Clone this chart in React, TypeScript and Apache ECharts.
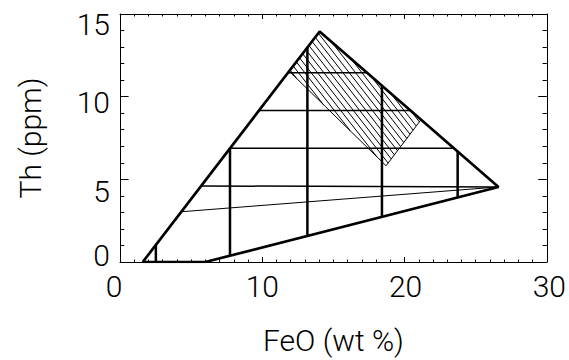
import React, { useEffect, useRef } from "react";
import * as echarts from "echarts";

// ---- data ----
const xTicks = [0, 10, 20, 30];
const yTicks = [0, 5, 10, 15];

// outer triangle-like outline (FeO wt%, Th ppm)
const outline = [
  [1.6, 0],
  [6.0, 0],
  [26.6, 4.54],
  [14.03, 13.94],
  [1.6, 0],
];

// horizontal-ish divider lines
const horizontalLines = [
  [[11.8, 11.44], [17.37, 11.44]],
  [[9.77, 9.16], [20.42, 9.16]],
  [[7.73, 6.88], [23.47, 6.88]],
  [[5.74, 4.6], [26.6, 4.54]],
];

// thin sloping line
const thinLine = [
  [4.31, 3.04],
  [26.6, 4.54],
];

// vertical divider lines
const verticalLines = [
  [[2.52, 0], [2.52, 1.03]],
  [[7.73, 0.38], [7.73, 6.88]],
  [[13.17, 1.58], [13.17, 12.98]],
  [[18.41, 2.74], [18.41, 10.66]],
  [[23.73, 3.91], [23.73, 6.69]],
];

// hatched parallelogram: apex, right, bottom, left
const hatchRegion = [
  [14.03, 13.94],
  [21.15, 8.6],
  [18.7, 5.82],
  [11.89, 11.54],
];

const HATCH_ANGLE = 52; // degrees, down-right in screen space
const HATCH_SPACING = 5; // px perpendicular

const FONT = "Roboto, 'DejaVu Sans', sans-serif";
const FW = 300;
const FS = 30;
const TXT = "#000";

function lineSeries(data: number[][], width: number) {
  return {
    type: "line",
    data,
    symbol: "none",
    silent: true,
    lineStyle: { color: "#000", width },
    xAxisIndex: 0,
    yAxisIndex: 0,
    z: 3,
  };
}

export default function App() {
  const ref = useRef<HTMLDivElement>(null);
  useEffect(() => {
    if (!ref.current) return;
    document.body.style.margin = "0";
    const chart = echarts.init(ref.current, null, { renderer: "svg" });

    const axisCommon = {
      type: "value",
      splitLine: { show: false },
      axisLine: { show: true, onZero: false, lineStyle: { color: "#000", width: 1 } },
    };

    const yRich: any = {};
    const yPad: Record<number, number[]> = {
      0: [0, 0, 14, 0],
      5: [24, 0, 0, 0],
      10: [12, 0, 0, 0],
      15: [20, 0, 0, 0],
    };
    yTicks.forEach((v) => {
      yRich["y" + v] = { fontSize: FS, fontFamily: FONT, fontWeight: FW, color: TXT, padding: yPad[v] };
    });
    const xRich: any = {};
    const xPad: Record<number, number[]> = {
      0: [0, 12, 0, 0],
      10: [0, 0, 0, 0],
      20: [0, 0, 0, 2],
      30: [0, 0, 0, 5],
    };
    xTicks.forEach((v) => {
      xRich["x" + v] = { fontSize: FS, fontFamily: FONT, fontWeight: FW, color: TXT, padding: xPad[v] };
    });

    const series: any[] = [];
    series.push({
      type: "custom",
      coordinateSystem: "cartesian2d",
      xAxisIndex: 0,
      yAxisIndex: 0,
      silent: true,
      clip: false,
      data: [[hatchRegion[0][0], hatchRegion[0][1]]],
      z: 2,
      renderItem: (params: any, api: any) => {
        const pts = hatchRegion.map((p) => api.coord(p));
        const th = (HATCH_ANGLE * Math.PI) / 180;
        const nx = -Math.sin(th);
        const ny = Math.cos(th);
        const proj = pts.map((p: number[]) => p[0] * nx + p[1] * ny);
        const lo = Math.min(...proj);
        const hi = Math.max(...proj);
        const children: any[] = [];
        for (let c = lo + HATCH_SPACING / 2; c < hi; c += HATCH_SPACING) {
          const hits: number[][] = [];
          for (let i = 0; i < pts.length; i++) {
            const a = pts[i];
            const b = pts[(i + 1) % pts.length];
            const fa = proj[i] - c;
            const fb = proj[(i + 1) % pts.length] - c;
            if ((fa <= 0 && fb > 0) || (fa > 0 && fb <= 0)) {
              const t = fa / (fa - fb);
              hits.push([a[0] + (b[0] - a[0]) * t, a[1] + (b[1] - a[1]) * t]);
            }
          }
          if (hits.length >= 2) {
            children.push({
              type: "line",
              shape: { x1: hits[0][0], y1: hits[0][1], x2: hits[1][0], y2: hits[1][1] },
              style: { stroke: "#000", lineWidth: 1 },
            });
          }
        }
        children.push({
          type: "polyline",
          shape: { points: [pts[1], pts[2], pts[3]] },
          style: { stroke: "#000", lineWidth: 1, fill: null },
        });
        return { type: "group", children };
      },
    });

    series.push(lineSeries(outline, 2.7));
    horizontalLines.forEach((l) => series.push(lineSeries(l, 1.5)));
    series.push(lineSeries(thinLine, 1));
    verticalLines.forEach((l) => series.push(lineSeries(l, 2.5)));

    chart.setOption({
      animation: false,
      backgroundColor: "#fff",
      grid: { left: 120, right: 20, top: 14, bottom: 96, containLabel: false },
      xAxis: [
        {
          ...axisCommon,
          position: "bottom",
          min: 0,
          max: 30,
          interval: 10,
          axisTick: { show: true, inside: true, length: 5, lineStyle: { color: "#000", width: 1 } },
          minorTick: { show: true, splitNumber: 10, length: 2.5, lineStyle: { color: "#000", width: 1 } },
          axisLabel: {
            margin: 9,
            formatter: (v: number) => `{x${v}|${v}}`,
            rich: xRich,
          },
          name: "FeO (wt %)",
          nameLocation: "middle",
          nameGap: 63,
          nameTextStyle: { fontSize: FS, fontFamily: FONT, fontWeight: FW, color: TXT },
        },
        {
          ...axisCommon,
          position: "top",
          min: 0,
          max: 30,
          interval: 10,
          axisTick: { show: true, inside: true, length: 5, lineStyle: { color: "#000", width: 1 } },
          minorTick: { show: true, splitNumber: 10, length: 2.5, lineStyle: { color: "#000", width: 1 } },
          axisLabel: { show: false },
        },
      ],
      yAxis: [
        {
          ...axisCommon,
          position: "left",
          min: 0,
          max: 15,
          interval: 5,
          axisTick: { show: true, inside: true, length: 8.6, lineStyle: { color: "#000", width: 1 } },
          minorTick: { show: true, splitNumber: 5, length: 4.3, lineStyle: { color: "#000", width: 1 } },
          axisLabel: {
            margin: 10,
            formatter: (v: number) => `{y${v}|${v}}`,
            rich: yRich,
          },
          name: "Th (ppm)",
          nameLocation: "middle",
          nameGap: 75,
          nameTextStyle: { fontSize: FS, fontFamily: FONT, fontWeight: FW, color: TXT },
        },
        {
          ...axisCommon,
          position: "right",
          min: 0,
          max: 15,
          interval: 5,
          axisTick: { show: true, inside: true, length: 8.6, lineStyle: { color: "#000", width: 1 } },
          minorTick: { show: true, splitNumber: 5, length: 4.3, lineStyle: { color: "#000", width: 1 } },
          axisLabel: { show: false },
        },
      ],
      series,
    });
    return () => chart.dispose();
  }, []);
  return <div ref={ref} style={{ width: 569, height: 360 }} />;
}
